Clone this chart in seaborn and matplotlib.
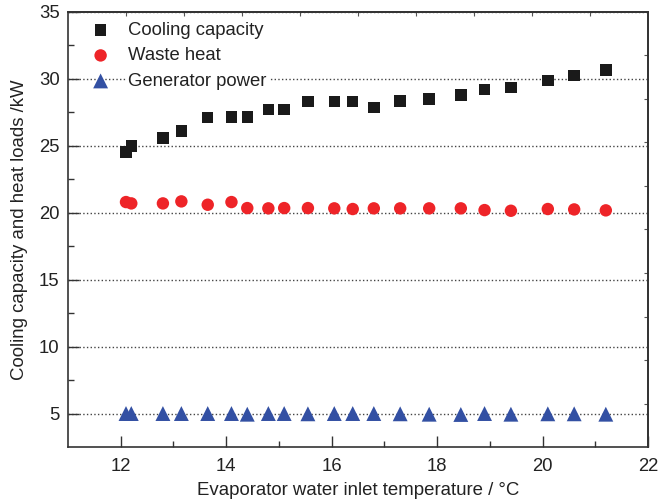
import numpy as np
import pandas as pd
import matplotlib
matplotlib.use("Agg")
import matplotlib.pyplot as plt
import seaborn as sns

# ---- data ----
temps = [12.1, 12.2, 12.8, 13.15, 13.65, 14.1, 14.4, 14.8, 15.1, 15.55, 16.05,
         16.4, 16.8, 17.3, 17.85, 18.45, 18.9, 19.4, 20.1, 20.6, 21.2]
cooling = [24.55, 25.0, 25.6, 26.1, 27.1, 27.15, 27.15, 27.7, 27.7, 28.3, 28.3,
           28.3, 27.85, 28.35, 28.5, 28.8, 29.2, 29.35, 29.9, 30.25, 30.65]
waste = [20.8, 20.7, 20.7, 20.85, 20.6, 20.8, 20.35, 20.33, 20.35, 20.35, 20.33,
         20.28, 20.33, 20.33, 20.33, 20.33, 20.2, 20.15, 20.28, 20.25, 20.18]
generator = [5.0, 5.0, 5.0, 5.0, 5.0, 5.0, 4.95, 5.0, 5.0, 4.98, 5.0,
             5.0, 5.0, 4.98, 4.95, 4.93, 5.0, 4.95, 4.98, 4.98, 4.95]
labels = ["Cooling capacity", "Waste heat", "Generator power"]
xticks = [12, 14, 16, 18, 20, 22]
yticks = [5, 10, 15, 20, 25, 30, 35]

sns.set_theme(style="white")
plt.rcParams['font.family'] = ['Liberation Sans', 'DejaVu Sans']

fig = plt.figure(figsize=(6.58, 5.04), dpi=100)
ax = fig.add_axes([68/658, 1-447/504, (648-68)/658, (447-12)/504])

ax.yaxis.grid(True, linestyle=':', color='#444444', linewidth=1.0, zorder=0)
ax.set_axisbelow(True)

styles = [("s", "#1a1a1a", 68), ("o", "#ee2428", 80), ("^", "#3350a3", 115)]
for ys, lab, (mk, col, sz) in zip([cooling, waste, generator], labels, styles):
    df = pd.DataFrame({"x": temps, "y": ys})
    sns.scatterplot(data=df, x="x", y="y", marker=mk, color=col, s=sz,
                    edgecolor='none', linewidth=0, label=lab, ax=ax, zorder=3)

ax.set_xlim(11, 22)
ax.set_ylim(2.5, 35)
ax.set_xticks(xticks)
ax.set_xticks([13, 15, 17, 19, 21], minor=True)
ax.set_yticks(yticks)
ax.set_yticks([7.5, 12.5, 17.5, 22.5, 27.5, 32.5], minor=True)
ax.tick_params(axis='both', which='both', bottom=True, left=True, top=False, right=False)
ax.tick_params(axis='x', which='major', pad=8)
ax.tick_params(axis='y', which='major', pad=6)
ax.tick_params(axis='both', which='major', direction='in', length=8, width=1,
               color='#333333', labelsize=13.3, labelcolor='#222222')
ax.tick_params(axis='both', which='minor', direction='in', length=4, width=1,
               color='#333333')

for sp in ax.spines.values():
    sp.set_color('#333333')
    sp.set_linewidth(1.2)

# top and right axes with own equal divisions
top = ax.secondary_xaxis('top')
top.set_xticks([11 + 1.1 * k for k in range(1, 10)])
top.tick_params(direction='in', top=True, length=3, width=0.8, color='#555555', labeltop=False)
right = ax.secondary_yaxis('right')
right.set_yticks([2.5 + 3.25 * k for k in range(1, 10)])
right.tick_params(direction='in', right=True, length=3, width=0.8, color='#555555', labelright=False)

ax.set_xlabel("Evaporator water inlet temperature / °C", fontsize=13.4, color='#222222', labelpad=5)
ax.set_ylabel("Cooling capacity and heat loads /kW", fontsize=13.4, color='#222222', labelpad=8)

leg = ax.legend(loc='upper left', frameon=False, fontsize=13.3, labelspacing=0.46,
                handletextpad=0.9, borderaxespad=0.2, handlelength=1.2,
                bbox_to_anchor=(0.018, 1.003))
for t in leg.get_texts():
    t.set_color('#222222')
    t.set_bbox(dict(facecolor='white', edgecolor='none', pad=2))

fig.savefig("out.png", dpi=100)
